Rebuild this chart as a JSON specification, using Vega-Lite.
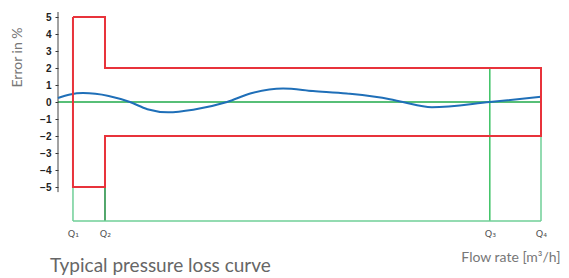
{
  "$schema": "https://vega.github.io/schema/vega-lite/v6.json",
  "width": 483,
  "height": 209,
  "autosize": "none",
  "padding": {"left": 58, "top": 12, "right": 28, "bottom": 57},
  "background": "white",
  "config": {"view": {"stroke": null}, "axis": {"labelOverlap": false}},
  "title": {
    "text": "Typical pressure loss curve",
    "orient": "bottom",
    "anchor": "start",
    "frame": "group",
    "font": "Lato",
    "fontSize": 19,
    "fontWeight": "normal",
    "color": "#666666",
    "offset": 0,
    "dx": -8,
    "dy": -7
  },
  "datasets": {
    "curve": [
      {"x": 0, "y": 0.24},
      {"x": 2.5, "y": 0.45},
      {"x": 5.2, "y": 0.53},
      {"x": 10.5, "y": 0.36},
      {"x": 14.9, "y": 0.0},
      {"x": 18.5, "y": -0.42},
      {"x": 22.8, "y": -0.6},
      {"x": 28, "y": -0.45},
      {"x": 35, "y": 0.0},
      {"x": 39.8, "y": 0.5},
      {"x": 46.6, "y": 0.8},
      {"x": 52.8, "y": 0.65},
      {"x": 59.8, "y": 0.5},
      {"x": 68.7, "y": 0.17},
      {"x": 71.4, "y": 0.0},
      {"x": 77.4, "y": -0.3},
      {"x": 89.4, "y": 0.0},
      {"x": 100, "y": 0.31}
    ],
    "band": [
      {"i": 1, "x": 3.1, "y": 5},
      {"i": 2, "x": 9.73, "y": 5},
      {"i": 3, "x": 9.73, "y": 2},
      {"i": 4, "x": 100, "y": 2},
      {"i": 5, "x": 100, "y": -2},
      {"i": 6, "x": 9.73, "y": -2},
      {"i": 7, "x": 9.73, "y": -5},
      {"i": 8, "x": 3.1, "y": -5},
      {"i": 9, "x": 3.1, "y": 5}
    ],
    "rules": [
      {"line": "zero", "x": 0, "x2": 100, "y": 0, "y2": 0},
      {"line": "light", "x": 3.1, "x2": 3.1, "y": -5, "y2": -7},
      {"line": "dark", "x": 9.73, "x2": 9.73, "y": -5, "y2": -7},
      {"line": "mid", "x": 89.4, "x2": 89.4, "y": 2, "y2": -7},
      {"line": "light", "x": 100, "x2": 100, "y": -2, "y2": -7},
      {"line": "light", "x": 3.1, "x2": 100, "y": -7, "y2": -7}
    ],
    "yaxis": [
      {"x": 0, "y": -5.3, "y2": 5.3}
    ]
  },
  "layer": [
    {
      "data": {"name": "rules"},
      "mark": {"type": "rule", "strokeWidth": 1.5},
      "encoding": {
        "x": {
          "field": "x",
          "type": "quantitative",
          "scale": {"domain": [0, 100], "nice": false, "zero": false},
          "axis": {
            "values": [3.1, 9.73, 89.4, 100],
            "tickCount": 20,
            "labelExpr": "datum.value < 5 ? 'Q₁' : datum.value < 50 ? 'Q₂' : datum.value < 95 ? 'Q₃' : 'Q₄'",
            "domain": false,
            "ticks": false,
            "grid": false,
            "labelFont": "DejaVu Sans",
            "labelFontSize": 9.5,
            "labelColor": "#555555",
            "labelPadding": 7,
            "labelAlign": "center",
            "labelBaseline": "top",
            "labelFlush": false,
            "labelOverlap": false,
            "title": "Flow rate [m³/h]",
            "titleFont": "Lato",
            "titleFontSize": 14,
            "titleFontWeight": "normal",
            "titleColor": "#777777",
            "titleAlign": "right",
            "titleAnchor": "end",
            "titleBaseline": "middle",
            "titleX": 502,
            "titleY": 36
          }
        },
        "x2": {"field": "x2"},
        "y": {
          "field": "y",
          "type": "quantitative",
          "scale": {"domain": [-7, 5.3], "nice": false, "zero": false},
          "axis": {
            "values": [-5, -4, -3, -2, -1, 0, 1, 2, 3, 4, 5],
            "tickCount": 20,
            "format": "d",
            "domain": false,
            "grid": false,
            "tickSize": 3,
            "tickColor": "#333333",
            "labelFont": "Liberation Sans",
            "labelFontSize": 10,
            "labelFontWeight": "bold",
            "labelColor": "#222222",
            "labelPadding": 4,
            "labelOverlap": false,
            "labelFlush": false,
            "title": "Error in %",
            "titleFont": "Lato",
            "titleFontSize": 14,
            "titleFontWeight": "normal",
            "titleColor": "#777777",
            "titleAngle": -90,
            "titleAlign": "center",
            "titleBaseline": "middle",
            "titleX": -41,
            "titleY": 45
          }
        },
        "y2": {"field": "y2"},
        "color": {
          "field": "line",
          "type": "nominal",
          "scale": {
            "domain": ["zero", "light", "dark", "mid"],
            "range": ["#1faa4a", "#6fcf97", "#1a8a3c", "#3cc264"]
          },
          "legend": null
        }
      }
    },
    {
      "data": {"name": "yaxis"},
      "mark": {"type": "rule", "color": "#444444", "strokeWidth": 1},
      "encoding": {
        "x": {"field": "x", "type": "quantitative"},
        "y": {"field": "y", "type": "quantitative"},
        "y2": {"field": "y2"}
      }
    },
    {
      "data": {"name": "curve"},
      "mark": {"type": "line", "color": "#1f6fb8", "strokeWidth": 2, "interpolate": "monotone"},
      "encoding": {
        "x": {"field": "x", "type": "quantitative"},
        "y": {"field": "y", "type": "quantitative"}
      }
    },
    {
      "data": {"name": "band"},
      "mark": {"type": "line", "color": "#e8333b", "strokeWidth": 2, "interpolate": "linear"},
      "encoding": {
        "x": {"field": "x", "type": "quantitative"},
        "y": {"field": "y", "type": "quantitative"},
        "order": {"field": "i", "type": "quantitative"}
      }
    }
  ]
}
